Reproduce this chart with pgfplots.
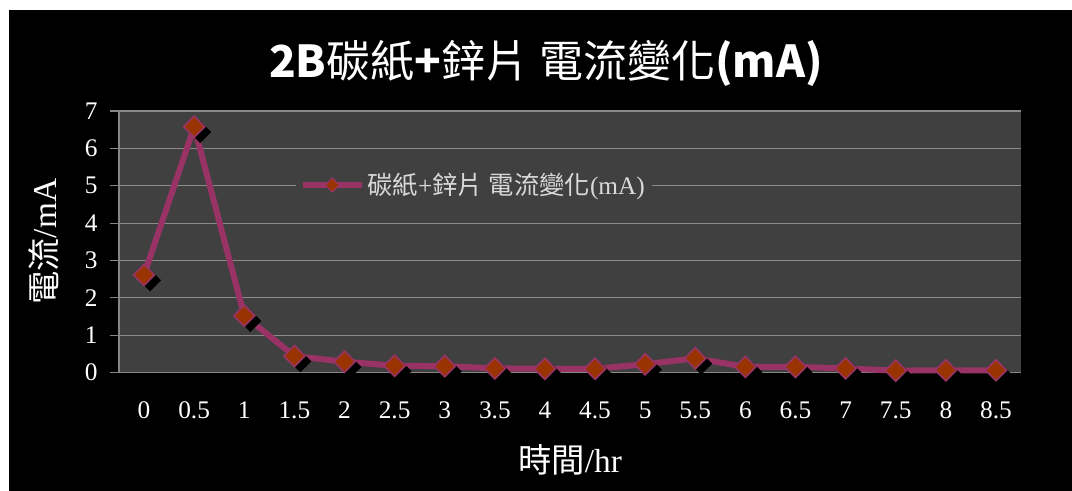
\documentclass[border=0pt]{standalone}
\usepackage{fontspec}
\usepackage{pgfplots}
\pgfplotsset{compat=1.18}
\setmainfont{Liberation Serif}
\newfontfamily\cjk{Noto Sans CJK TC}

\definecolor{plotbg}{HTML}{404040}
\definecolor{gridgray}{HTML}{8A8A8A}
\definecolor{axisgray}{HTML}{868686}
\definecolor{plotline}{HTML}{993366}
\definecolor{markfill}{HTML}{993300}

% current readings (mA), one every half hour
\pgfplotstableread{
t   I
0   2.61
1   6.58
2   1.52
3   0.44
4   0.29
5   0.18
6   0.17
7   0.11
8   0.10
9   0.10
10  0.22
11  0.38
12  0.15
13  0.15
14  0.11
15  0.05
16  0.06
17  0.06
}\currentdata

\begin{document}
\begin{tikzpicture}[x=0.75pt,y=0.75pt]
\useasboundingbox (0,0) rectangle (1072,491);
\fill[white] (0,0) rectangle (1072,491);
\fill[black] (9,0) rectangle (1072,481);

\node[white, font=\fontsize{33}{37}\selectfont] at (546,428)
  {{\cjk\bfseries 2B}{\cjk 碳紙}{\cjk\bfseries +}{\cjk 鋅片 電流變化}{\cjk\bfseries (mA)}};

\begin{axis}[
  at={(89.25pt,88.875pt)}, anchor=south west,
  scale only axis, width=676.5pt, height=196.1pt,
  axis background/.style={fill=plotbg},
  axis lines*=left,
  axis line style={axisgray, line width=0.8pt},
  xmin=-0.5, xmax=17.5, ymin=0, ymax=7,
  xtick={0,...,17},
  xticklabels={0,0.5,1,1.5,2,2.5,3,3.5,4,4.5,5,5.5,6,6.5,7,7.5,8,8.5},
  x tick style={draw=none},
  extra x ticks={-0.5,0.5,...,17.5},
  extra x tick labels={},
  extra x tick style={major tick length=5.5pt, tick style={axisgray, line width=0.8pt}, grid=none},
  ytick={0,...,7},
  y tick style={axisgray, line width=0.8pt},
  major tick length=6.5pt,
  tick align=outside,
  ymajorgrids,
  grid style={gridgray, line width=0.8pt},
  ticklabel style={white, font=\fontsize{19}{21}\selectfont},
  /pgf/number format/assume math mode=true,
  xticklabel style={yshift=-12pt},
  yticklabel style={xshift=-6pt},
  xlabel={{\cjk 時間}/hr},
  ylabel={{\cjk 電流}/mA},
  xlabel style={at={(axis description cs:0.5,-0.335)}, anchor=center, text=white, font=\fontsize{25}{28}\selectfont},
  ylabel style={at={(axis description cs:-0.083,0.5)}, anchor=center, text=white, font=\fontsize{25}{28}\selectfont},
  legend style={at={(axis description cs:0.196,0.717)}, anchor=west, draw=none, fill=plotbg,
    text=white!85!black, font=\fontsize{19}{21}\selectfont,
    inner xsep=3pt, inner ysep=1pt},
  legend image code/.code={
    \draw[plotline, line width=4.5pt] (0pt,0pt) -- (44pt,0pt);
    \draw[plotline, fill=markfill, line width=0.8pt, rotate around={45:(22pt,0pt)}]
      (18.3pt,-3.7pt) rectangle (25.7pt,3.7pt);
  },
  clip=false,
]
% drop shadow under the markers
\addplot[forget plot, only marks, xshift=4.5pt, yshift=-4pt,
  mark=square*, mark size=5.6pt, mark options={rotate=45, fill=black, draw=black}]
  table[x=t, y=I] {\currentdata};
% the series itself
\addplot[plotline, line width=4.5pt,
  mark=square*, mark size=5.6pt,
  mark options={rotate=45, fill=markfill, draw=plotline, line width=1.2pt}]
  table[x=t, y=I] {\currentdata};
\addlegendentry{{\cjk 碳紙}+{\cjk 鋅片 電流變化}(mA)}
\end{axis}
\end{tikzpicture}
\end{document}
